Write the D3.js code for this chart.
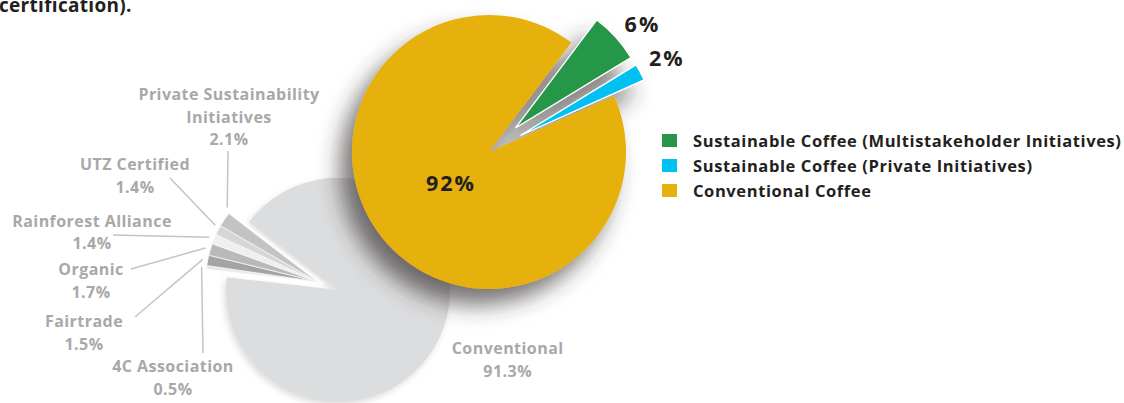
<!DOCTYPE html>
<html>
<head>
<meta charset="utf-8">
<script src="https://cdn.jsdelivr.net/npm/d3@7"></script>
<style>
  body { margin: 0; background: #fff; }
  svg { display: block; }
  text { font-family: "Open Sans", Lato, sans-serif; font-weight: 700; }
</style>
</head>
<body>
<svg id="chart" width="1124" height="403"></svg>
<script>
// Coffee market: sustainable vs conventional share
const marketCategories = [
  "Sustainable Coffee (Multistakeholder Initiatives)",
  "Sustainable Coffee (Private Initiatives)",
  "Conventional Coffee"
];
const marketShares = [6, 2, 92];
const marketLabels = ["6%", "2%", "92%"];
const marketColors = ["#27964a", "#00c1f1", "#e6b00e"];

// Breakdown by certification scheme
const schemeCategories = [
  "Conventional", "4C Association", "Fairtrade", "Organic",
  "Rainforest Alliance", "UTZ Certified", "Private Sustainability Initiatives"
];
const schemeShares = [91.3, 0.5, 1.5, 1.7, 1.4, 1.4, 2.1];
const schemeLabels = ["91.3%", "0.5%", "1.5%", "1.7%", "1.4%", "1.4%", "2.1%"];
const schemeLabelLines = [
  ["Conventional"], ["4C Association"], ["Fairtrade"], ["Organic"],
  ["Rainforest Alliance"], ["UTZ Certified"], ["Private Sustainability", "Initiatives"]
];
const schemeColors = ["#dcdddf", "#e9e9ea", "#a4a4a6", "#b9b9bb", "#efeff0", "#d6d6d8", "#c3c3c5"];

const titleText = "certification).";

// ---- layout ----
const deg = Math.PI / 180;
const svg = d3.select("#chart");
const defs = svg.append("defs");

function shadowFilter(id, blur, dx, dy, color, opacity) {
  const f = defs.append("filter").attr("id", id)
    .attr("x", "-40%").attr("y", "-40%").attr("width", "180%").attr("height", "180%");
  f.append("feGaussianBlur").attr("in", "SourceAlpha").attr("stdDeviation", blur).attr("result", "blur");
  f.append("feOffset").attr("in", "blur").attr("dx", dx).attr("dy", dy).attr("result", "off");
  f.append("feFlood").attr("flood-color", color).attr("flood-opacity", opacity);
  f.append("feComposite").attr("in2", "off").attr("operator", "in").attr("result", "shadow");
  const m = f.append("feMerge");
  m.append("feMergeNode").attr("in", "shadow");
  m.append("feMergeNode").attr("in", "SourceGraphic");
}
shadowFilter("marketShadow", 11, -12, 16, "#3a3232", 0.68);
shadowFilter("schemeShadow", 3, -2, 3, "#777", 0.25);

const glow = defs.append("filter").attr("id", "sliceGlow")
  .attr("x", "-20%").attr("y", "-20%").attr("width", "140%").attr("height", "140%");
glow.append("feGaussianBlur").attr("stdDeviation", 1.6);

// title fragment
svg.append("text").attr("x", -1).attr("y", 12)
  .attr("font-size", 19).attr("letter-spacing", 0.3).attr("fill", "#231f20").text(titleText);

// ---- scheme pie (grey) ----
const schemeCenter = [338, 290], schemeR = 112, schemeExplode = 22;
const schemeStart = 307.5 * deg;
const schemeArcs = d3.pie().sort(null).value(d => d)
  .startAngle(schemeStart).endAngle(schemeStart + 2 * Math.PI)(schemeShares);
const schemeArc = d3.arc().innerRadius(0).outerRadius(schemeR);
const smallArcs = schemeArcs.slice(1);
const groupMid = (smallArcs[0].startAngle + smallArcs[smallArcs.length - 1].endAngle) / 2;
const ex = Math.sin(groupMid) * schemeExplode, ey = -Math.cos(groupMid) * schemeExplode;

const gScheme = svg.append("g").attr("transform", `translate(${schemeCenter})`);
gScheme.append("path").attr("d", schemeArc(schemeArcs[0]))
  .attr("fill", schemeColors[0]).attr("filter", "url(#schemeShadow)");

const gSmall = gScheme.append("g").attr("transform", `translate(${ex},${ey})`);
const wedge = { startAngle: smallArcs[0].startAngle, endAngle: smallArcs[smallArcs.length - 1].endAngle };
gSmall.append("path").attr("d", schemeArc(wedge))
  .attr("fill", "none").attr("stroke", "#fff").attr("stroke-width", 5).attr("filter", "url(#sliceGlow)");
gSmall.selectAll("path.slice").data(smallArcs).join("path").attr("class", "slice")
  .attr("d", schemeArc).attr("fill", (d, i) => schemeColors[i + 1])
  .attr("stroke", "#f6f6f6").attr("stroke-width", 0.8);

// label positions for the small scheme slices: text x, first baseline, leader start, attach fraction
const schemeLabelLayout = [
  null,
  { x: 173, y: 372, lx: 203, ly: 353, t: 0.5 },
  { x: 84,  y: 327, lx: 135, ly: 317, t: 0.5 },
  { x: 91,  y: 275, lx: 131, ly: 269, t: 0.5 },
  { x: 92,  y: 226.5, lx: 113, ly: 235, t: 0.5 },
  { x: 135, y: 170, lx: 170, ly: 178, t: 0.8 },
  { x: 229, y: 100, lx: 228, ly: 151, t: 1.25 }
];
const labelGrey = "#a8a8a9", leaderGrey = "#c4c4c5";
const lineH = 22.5;
const labelSize = 16, labelSpacing = 0.45;

schemeArcs.forEach((d, i) => {
  if (i === 0) return;
  const L = schemeLabelLayout[i];
  const a = d.startAngle + (d.endAngle - d.startAngle) * L.t;
  const r = schemeR + 5;
  const px = schemeCenter[0] + ex + Math.sin(a) * r;
  const py = schemeCenter[1] + ey - Math.cos(a) * r;
  svg.append("line").attr("x1", L.lx).attr("y1", L.ly).attr("x2", px).attr("y2", py)
    .attr("stroke", leaderGrey).attr("stroke-width", 1.5);
  const lines = schemeLabelLines[i].concat([schemeLabels[i]]);
  const t = svg.append("text").attr("text-anchor", "middle").attr("font-size", labelSize)
    .attr("letter-spacing", labelSpacing).attr("fill", labelGrey);
  lines.forEach((s, k) => t.append("tspan").attr("x", L.x).attr("y", L.y + k * lineH).text(s));
});

// conventional label outside along its bisector
{
  const d = schemeArcs[0];
  const a = (d.startAngle + d.endAngle) / 2, r = 183;
  const cx = schemeCenter[0] + Math.sin(a) * r, cy = schemeCenter[1] - Math.cos(a) * r;
  const t = svg.append("text").attr("text-anchor", "middle").attr("font-size", labelSize)
    .attr("letter-spacing", labelSpacing).attr("fill", labelGrey);
  schemeLabelLines[0].concat([schemeLabels[0]]).forEach((s, k) =>
    t.append("tspan").attr("x", cx).attr("y", cy - 5 + k * 23).text(s));
}

// ---- market pie (colour) ----
const marketCenter = [489, 152];
const marketStart = 37 * deg;
const marketArcs = d3.pie().sort(null).value(d => d)
  .startAngle(marketStart).endAngle(marketStart + 2 * Math.PI)(marketShares);
const explode = [36, 36, 0];
const radius = [135, 135, 137];

const gMarket = svg.append("g").attr("transform", `translate(${marketCenter})`)
  .attr("filter", "url(#marketShadow)");
marketArcs.forEach((d, i) => {
  const mid = (d.startAngle + d.endAngle) / 2;
  const dx = Math.sin(mid) * explode[i], dy = -Math.cos(mid) * explode[i];
  gMarket.append("path")
    .attr("d", d3.arc().innerRadius(0).outerRadius(radius[i])(d))
    .attr("transform", `translate(${dx},${dy})`)
    .attr("fill", marketColors[i])
    .attr("stroke", i < 2 ? "#fff" : "none").attr("stroke-width", i < 2 ? 1.2 : 0);
});

// value labels: distance from centre and small angular nudge off the bisector
const labelRadius = [199, 200, 50];
const labelNudge = [2.2, 0, 0];
marketArcs.forEach((d, i) => {
  const mid = (d.startAngle + d.endAngle) / 2 + labelNudge[i] * deg;
  const x = marketCenter[0] + Math.sin(mid) * labelRadius[i];
  const y = marketCenter[1] - Math.cos(mid) * labelRadius[i];
  svg.append("text").attr("x", x + 1).attr("y", y + 7.5).attr("text-anchor", "middle")
    .attr("font-size", 21.5).attr("letter-spacing", 2).attr("fill", "#231f20").text(marketLabels[i]);
});

// ---- legend ----
const legend = svg.append("g").attr("transform", "translate(662,147)");
marketCategories.forEach((c, i) => {
  const g = legend.append("g").attr("transform", `translate(0,${i * 25})`);
  g.append("rect").attr("x", 0).attr("y", -13).attr("width", 15).attr("height", 13).attr("fill", marketColors[i]);
  g.append("text").attr("x", 31).attr("y", 0).attr("font-size", 16.5)
    .attr("letter-spacing", 0.6).attr("fill", "#231f20").text(c);
});
</script>
</body>
</html>
